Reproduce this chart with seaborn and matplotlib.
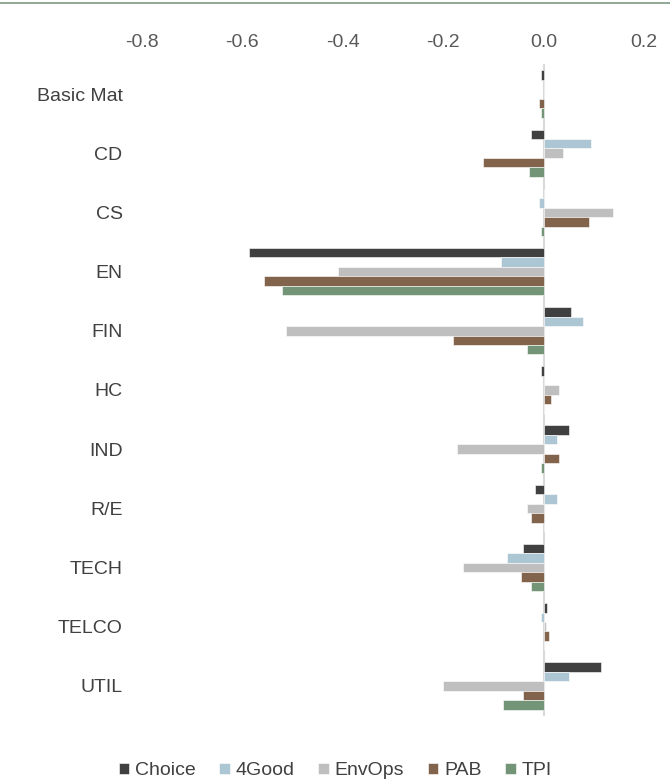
import matplotlib
matplotlib.use("Agg")
import matplotlib.pyplot as plt
import numpy as np
import pandas as pd
import seaborn as sns

# sectors and series
sectors = ['Basic Mat', 'CD', 'CS', 'EN', 'FIN', 'HC', 'IND', 'R/E', 'TECH', 'TELCO', 'UTIL']
series = ['Choice', '4Good', 'EnvOps', 'PAB', 'TPI']

choice = [-0.006, -0.025, 0.000, -0.587, 0.055, -0.005, 0.051, -0.017, -0.041, 0.007, 0.115]
good4 = [0.000, 0.095, -0.009, -0.085, 0.079, 0.000, 0.026, 0.026, -0.073, -0.005, 0.051]
envops = [0.000, 0.038, 0.139, -0.410, -0.513, 0.030, -0.173, -0.033, -0.161, 0.005, -0.201]
pab = [-0.009, -0.121, 0.091, -0.557, -0.181, 0.014, 0.031, -0.025, -0.045, 0.011, -0.041]
tpi = [-0.005, -0.029, -0.005, -0.521, -0.033, 0.000, -0.005, 0.000, -0.025, 0.000, -0.081]

colors = ['#404040', '#a5c8da', '#bfbfbf', '#8b6343', '#6e9a71']

df = pd.DataFrame({'sector': sectors, 'Choice': choice, '4Good': good4,
                   'EnvOps': envops, 'PAB': pab, 'TPI': tpi})
df = df.melt(id_vars='sector', var_name='series', value_name='value')

sns.set_style("white")
plt.rcParams['font.family'] = ['Liberation Sans', 'DejaVu Sans']

fig = plt.figure(figsize=(6.7, 7.82), dpi=100)
ax = fig.add_axes([0.2119, 0.085, 0.7493, 0.8326])

sns.barplot(data=df, y='sector', x='value', hue='series', order=sectors,
            hue_order=series, palette=colors, orient='h', width=0.8,
            edgecolor='white', linewidth=0.4, ax=ax)

ax.axvline(0, color='#d9d9d9', lw=1.5, zorder=0)
ax.set_xlim(-0.8, 0.2)
ax.set_xticks(np.arange(-0.8, 0.21, 0.2))
ax.set_xticklabels(['-0.8', '-0.6', '-0.4', '-0.2', '0.0', '0.2'])
ax.xaxis.tick_top()
ax.tick_params(axis='x', length=0, pad=10, labelsize=14, labelcolor='#595959')
ax.tick_params(axis='y', length=0, pad=14, labelsize=14, labelcolor='#404040')
ax.set_xlabel('')
ax.set_ylabel('')
for s in ax.spines.values():
    s.set_visible(False)

ax.legend(loc='upper center', bbox_to_anchor=(0.385, -0.045), ncol=5, frameon=False,
          fontsize=14, handlelength=0.55, handleheight=0.55, handletextpad=0.3,
          columnspacing=1.2, labelcolor='#404040')

# thin frame line on top
fig.add_artist(plt.Line2D([0, 1], [0.996, 0.996], color='#7f9a85', lw=1.2))

plt.savefig('out.png', dpi=100)
